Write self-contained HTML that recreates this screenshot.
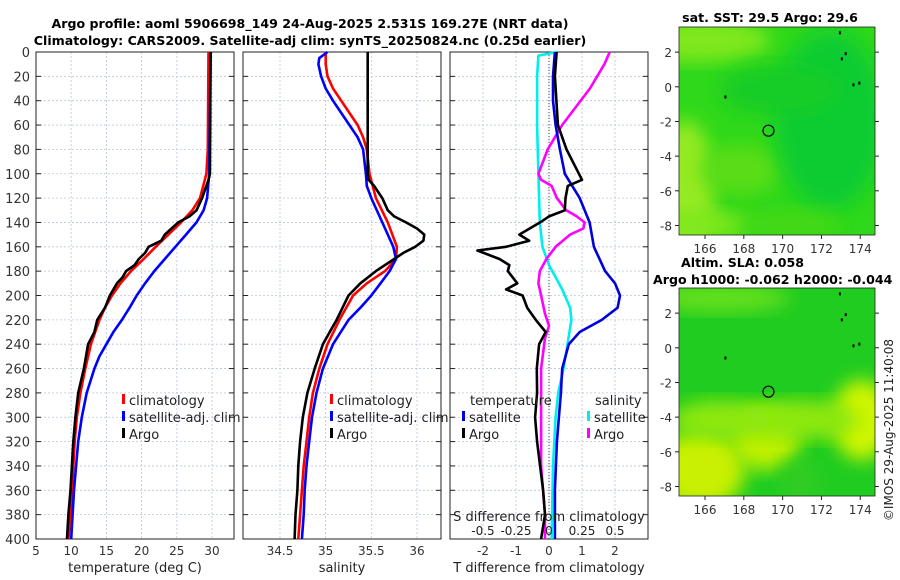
<!DOCTYPE html>
<html><head><meta charset="utf-8"><style>
body{margin:0;background:#fff;}
svg{display:block;font-family:"DejaVu Sans","Liberation Sans",sans-serif;}
</style></head><body>
<svg id="c" width="900" height="580" viewBox="0 0 900 580" xmlns="http://www.w3.org/2000/svg">
<defs>
<filter id="blur" x="-20%" y="-20%" width="140%" height="140%"><feGaussianBlur stdDeviation="9"/></filter>
<clipPath id="m1"><rect x="679" y="27" width="196" height="208"/></clipPath>
<clipPath id="m2"><rect x="679" y="288" width="196" height="208"/></clipPath>
</defs>
<text x="310" y="28" text-anchor="middle" font-size="12.6" font-weight="bold">Argo profile: aoml 5906698_149 24-Aug-2025 2.531S 169.27E (NRT data)</text>
<text x="310" y="45" text-anchor="middle" font-size="12.6" font-weight="bold">Climatology: CARS2009. Satellite-adj clim: synTS_20250824.nc (0.25d earlier)</text>
<g id="plots"></g>
<g clip-path="url(#m1)">
<rect x="679" y="27" width="196" height="208" fill="#2fd81a"/>
<ellipse cx="700" cy="40" rx="70" ry="22" fill="#80e81a" filter="url(#blur)"/>
<ellipse cx="685" cy="190" rx="30" ry="70" fill="#95ea20" filter="url(#blur)"/>
<ellipse cx="700" cy="225" rx="50" ry="15" fill="#80e81a" filter="url(#blur)"/>
<ellipse cx="740" cy="170" rx="40" ry="25" fill="#5add18" filter="url(#blur)"/>
<ellipse cx="830" cy="120" rx="55" ry="90" fill="#0ccc30" filter="url(#blur)"/>
<ellipse cx="780" cy="90" rx="60" ry="25" fill="#19cc28" filter="url(#blur)"/>
<ellipse cx="790" cy="225" rx="50" ry="15" fill="#45d818" filter="url(#blur)"/>
</g>
<g clip-path="url(#m2)">
<rect x="679" y="288" width="196" height="208" fill="#20cc20"/>
<ellipse cx="720" cy="298" rx="70" ry="14" fill="#66e01a" filter="url(#blur)"/>
<ellipse cx="700" cy="470" rx="45" ry="40" fill="#c8f000" filter="url(#blur)"/>
<ellipse cx="765" cy="440" rx="35" ry="30" fill="#c0f000" filter="url(#blur)"/>
<ellipse cx="862" cy="420" rx="30" ry="40" fill="#d0f500" filter="url(#blur)"/>
<ellipse cx="800" cy="420" rx="60" ry="20" fill="#8ee80a" filter="url(#blur)"/>
<ellipse cx="720" cy="420" rx="50" ry="20" fill="#8ee80a" filter="url(#blur)"/>
<ellipse cx="800" cy="480" rx="20" ry="20" fill="#30cc20" filter="url(#blur)"/>
</g>
<text x="770" y="22" text-anchor="middle" font-size="12.6" font-weight="bold">sat. SST: 29.5 Argo: 29.6</text>
<text x="681" y="267" font-size="12.6" font-weight="bold">Altim. SLA: 0.058</text>
<text x="653" y="284" font-size="12.6" font-weight="bold">Argo h1000: -0.062 h2000: -0.044</text>
<text transform="translate(893,430) rotate(-90)" text-anchor="middle" font-size="12" fill="#222">©IMOS 29-Aug-2025 11:40:08</text>
<g id="maps"></g>
</svg>
<script>
const NS="http://www.w3.org/2000/svg";
const depthTicks=[0,20,40,60,80,100,120,140,160,180,200,220,240,260,280,300,320,340,360,380,400];
const tempTicks=[5,10,15,20,25,30];
const salTicks=[34.5,35,35.5,36];
const tdiffTicks=[-2,-1,0,1,2];
const sdiffTicks=[-0.5,-0.25,0,0.25,0.5];
const sdiffTickLabels=["-0.5","-0.25","0","0.25","0.5"];
const tClimD=[0,80,100,120,130,140,150,160,170,180,190,200,210,220,240,260,280,300,320,340,360,380,400];
const tClimV=[29.5,29.4,29.2,28.3,27.2,25.6,23.8,22.0,20.3,18.5,17.0,15.8,14.8,14.0,12.8,12.0,11.3,10.8,10.5,10.3,10.1,9.9,9.6];
const tSatD=[0,100,120,130,140,150,160,170,180,190,200,210,220,230,240,250,260,280,300,320,340,360,380,400];
const tSatV=[29.8,29.6,29.3,28.8,27.8,26.3,24.8,23.3,21.8,20.5,19.3,18.3,17.2,16.0,15.0,14.0,13.3,12.2,11.5,11.0,10.7,10.4,10.2,10.0];
const tArgoD=[0,100,105,120,130,135,140,150,155,160,165,170,175,180,185,190,200,210,220,230,240,260,280,300,320,340,360,380,400];
const tArgoV=[29.8,29.7,29.5,28.6,27.8,26.8,25.2,23.3,22.8,21.0,20.5,19.6,19.0,17.8,17.3,16.5,15.5,14.8,13.7,13.3,12.4,11.8,11.0,10.6,10.3,10.1,9.9,9.6,9.4];
const sClimD=[0,10,20,30,40,50,60,70,80,100,120,140,160,170,180,190,200,220,240,260,280,300,320,340,360,380,400];
const sClimV=[35.0,35.0,35.02,35.08,35.17,35.26,35.35,35.41,35.45,35.48,35.55,35.68,35.78,35.77,35.65,35.45,35.3,35.15,35.02,34.93,34.86,34.82,34.79,34.76,34.74,34.72,34.70];
const sSatD=[0,5,10,20,30,40,50,60,70,80,100,110,120,140,160,170,180,190,200,210,220,240,260,280,300,320,340,360,380,400];
const sSatV=[35.02,34.93,34.92,34.95,35.0,35.08,35.17,35.26,35.35,35.41,35.44,35.45,35.5,35.62,35.74,35.77,35.7,35.6,35.5,35.38,35.25,35.08,34.97,34.90,34.85,34.82,34.79,34.77,34.76,34.74];
const sArgoD=[0,100,105,110,120,130,135,140,145,150,155,160,165,170,180,190,200,220,240,260,280,300,320,340,360,380,400];
const sArgoV=[35.46,35.46,35.47,35.53,35.62,35.68,35.75,35.88,36.0,36.08,36.07,35.98,35.85,35.75,35.55,35.38,35.25,35.12,34.97,34.88,34.80,34.75,34.72,34.70,34.69,34.67,34.66];
const dTArgoD=[0,20,60,80,105,110,120,130,135,140,150,155,160,163,170,175,180,190,195,200,210,220,230,240,260,280,300,320,340,360,380,400];
const dTArgoV=[0.23,0.18,0.27,0.53,1.0,0.57,0.5,0.48,0,-0.27,-0.9,-0.6,-1.3,-2.17,-1.5,-1.2,-1.25,-0.96,-1.3,-0.8,-0.66,-0.4,-0.1,-0.3,-0.37,-0.36,-0.42,-0.36,-0.27,-0.18,-0.12,-0.24];
const dTSatD=[0,20,40,60,80,100,120,140,160,180,190,200,210,220,230,240,260,280,300,320,340,360,380,400];
const dTSatV=[0.18,0.12,0.12,0.2,0.33,0.48,0.93,1.23,1.36,1.7,2.0,2.15,2.08,1.6,0.93,0.6,0.4,0.36,0.3,0.24,0.21,0.18,0.18,0.18];
const dSSatD=[0,3,20,60,100,140,160,175,185,195,210,220,240,260,280,300,340,400];
const dSSatV=[0.06,-0.08,-0.09,-0.09,-0.08,-0.07,-0.05,0,0.05,0.1,0.16,0.17,0.14,0.11,0.07,0.05,0.03,0.02];
const dSArgoD=[0,10,30,50,60,80,100,105,110,120,130,135,140,145,150,160,170,180,190,200,215,225,235,260,300,340,380,400];
const dSArgoV=[0.46,0.42,0.31,0.17,0.1,-0.01,-0.08,-0.06,0.02,0.06,0.13,0.21,0.27,0.26,0.16,0.05,-0.02,-0.07,-0.08,-0.06,-0.03,0,-0.03,-0.06,-0.06,-0.06,-0.03,-0.03];
const latTicks=[2,0,-2,-4,-6,-8];
const lonTicks=[166,168,170,172,174];
const argoLon=169.27, argoLat=-2.531;

const Y0=52,Y1=539;
const yS=d=>Y0+(d/400)*(Y1-Y0);
function lin(d0,d1,r0,r1){return v=>r0+(v-d0)/(d1-d0)*(r1-r0);}
const xT=lin(5,30,36,212);
const xS=lin(34.5,36,280,417);
const xD=lin(-3,3,450,648);
const xDS=v=>xD(v*4);
const G=document.getElementById('plots');
function el(tag,attrs,parent,txt){const e=document.createElementNS(NS,tag);for(const k in attrs)e.setAttribute(k,attrs[k]);if(txt!==undefined)e.textContent=txt;(parent||G).appendChild(e);return e;}
function panel(x0,x1,xs,ticks,labels,name,xlabel){
  const g=el('g',{});
  
  
  depthTicks.forEach(d=>{const l=el('line',{x1:x0,x2:x1,y1:yS(d),y2:yS(d),stroke:'#b8c4e0','stroke-width':0.8,'stroke-dasharray':'2,2'},g);
    el('line',{x1:x0,x2:x0+5,y1:yS(d),y2:yS(d),stroke:'#222'},g);el('line',{x1:x1-5,x2:x1,y1:yS(d),y2:yS(d),stroke:'#222'},g);});
  ticks.forEach((t,i)=>{const x=xs(t);const l=el('line',{x1:x,x2:x,y1:Y0,y2:Y1,stroke:'#b8c4e0','stroke-width':0.8,'stroke-dasharray':'2,2'},g);
    if(labels){const tx=el('text',{x:x,y:Y1+16,'text-anchor':'middle','font-size':12,fill:'#333'},g,labels[i]);}});
  el('rect',{x:x0,y:Y0,width:x1-x0,height:Y1-Y0,fill:'none',stroke:'#222','stroke-width':1},g);
  if(xlabel){const t=el('text',{x:(x0+x1)/2,y:572,'text-anchor':'middle','font-size':13,fill:'#222'},g,xlabel);}
  return g;
}
function series(D,V,xs,color,name){
  const pts=D.map((d,i)=>xs(V[i]).toFixed(1)+','+yS(d).toFixed(1)).join(' ');
  const p=el('polyline',{points:pts,fill:'none',stroke:color,'stroke-width':2.6,'stroke-linejoin':'round'});
  
  
}
panel(36,234,xT,tempTicks,tempTicks.map(String),'temperature-panel','temperature (deg C)');
panel(243,441,xS,salTicks,salTicks.map(String),'salinity-panel','salinity');
panel(450,648,xD,tdiffTicks,tdiffTicks.map(String),'difference-panel','T difference from climatology');
depthTicks.forEach(d=>{const t=el('text',{x:30,y:yS(d)+5,'text-anchor':'end','font-size':13,fill:'#333'},G,String(d));});
const z=el('line',{x1:xD(0),x2:xD(0),y1:Y0,y2:Y1,stroke:'#445','stroke-width':1,'stroke-dasharray':'1,2'});


series(tClimD,tClimV,xT,'#ff0000','temp-climatology-line');
series(tSatD,tSatV,xT,'#0000ff','temp-satellite-line');
series(tArgoD,tArgoV,xT,'#000000','temp-argo-line');
series(sClimD,sClimV,xS,'#ff0000','sal-climatology-line');
series(sSatD,sSatV,xS,'#0000ff','sal-satellite-line');
series(sArgoD,sArgoV,xS,'#000000','sal-argo-line');
series(dSSatD,dSSatV,xDS,'#00eeee','sdiff-satellite-line');
series(dSArgoD,dSArgoV,xDS,'#ff00ff','sdiff-argo-line');
series(dTSatD,dTSatV,xD,'#0000dd','tdiff-satellite-line');
series(dTArgoD,dTArgoV,xD,'#000000','tdiff-argo-line');
const st=el('text',{x:549,y:521,'text-anchor':'middle','font-size':13,fill:'#222'},G,'S difference from climatology');


sdiffTicks.forEach((v,i)=>{const t=el('text',{x:xDS(v),y:535,'text-anchor':'middle','font-size':12,fill:'#222'},G,sdiffTickLabels[i]);});
function legend(x,y,items,name){
  const g=el('g',{});
  
  
  items.forEach((it,i)=>{
    if(it[1])el('rect',{x:x,y:y+i*17-11,width:3,height:10,fill:it[1]},g);
    el('text',{x:x+(it[1]?7:0),y:y+i*17,'font-size':13,fill:'#222'},g,it[0]);
  });
}
legend(122,405,[['climatology','#ff0000'],['satellite-adj. clim','#0000ff'],['Argo','#000000']],'temp-legend');
legend(330,405,[['climatology','#ff0000'],['satellite-adj. clim','#0000ff'],['Argo','#000000']],'sal-legend');
legend(470,405,[['temperature',null]],'tdiff-legend-title');
legend(462,422,[['satellite','#0000dd'],['Argo','#000000']],'tdiff-legend');
legend(595,405,[['salinity',null]],'sdiff-legend-title');
legend(587,422,[['satellite','#00eeee'],['Argo','#ff00ff']],'sdiff-legend');
const M=document.getElementById('maps');
const lonX=lin(164.66,174.76,679,875);
function mapAxes(top,name){
  const latY=lin(3.45,-8.55,top,top+208);
  const g=el('g',{},M);
  
  
  el('rect',{x:679,y:top,width:196,height:208,fill:'none',stroke:'#222','stroke-width':0.8},g);
  latTicks.forEach(v=>{const y=latY(v);el('line',{x1:675,x2:679,y1:y,y2:y,stroke:'#222'},g);el('line',{x1:875,x2:879,y1:y,y2:y,stroke:'#222'},g);
    el('text',{x:672,y:y+5,'text-anchor':'end','font-size':12,fill:'#333'},g,String(v));});
  lonTicks.forEach(v=>{const x=lonX(v);el('line',{x1:x,x2:x,y1:top+208,y2:top+212,stroke:'#222'},g);
    el('text',{x:x,y:top+226,'text-anchor':'middle','font-size':12,fill:'#333'},g,String(v));});
  const c=el('circle',{cx:lonX(argoLon),cy:latY(argoLat),r:5.5,fill:'none',stroke:'#000','stroke-width':1.2},g);
  
  
  [[172.9,3.2],[173.0,1.7],[173.2,2.0],[173.6,0.2],[173.9,0.3],[167.0,-0.5]].forEach(p=>el('rect',{x:lonX(p[0]),y:latY(p[1]),width:2,height:3,fill:'#000'},g));
}
mapAxes(27,'sst-map-axes');
mapAxes(288,'sla-map-axes');
</script>
</body></html>
